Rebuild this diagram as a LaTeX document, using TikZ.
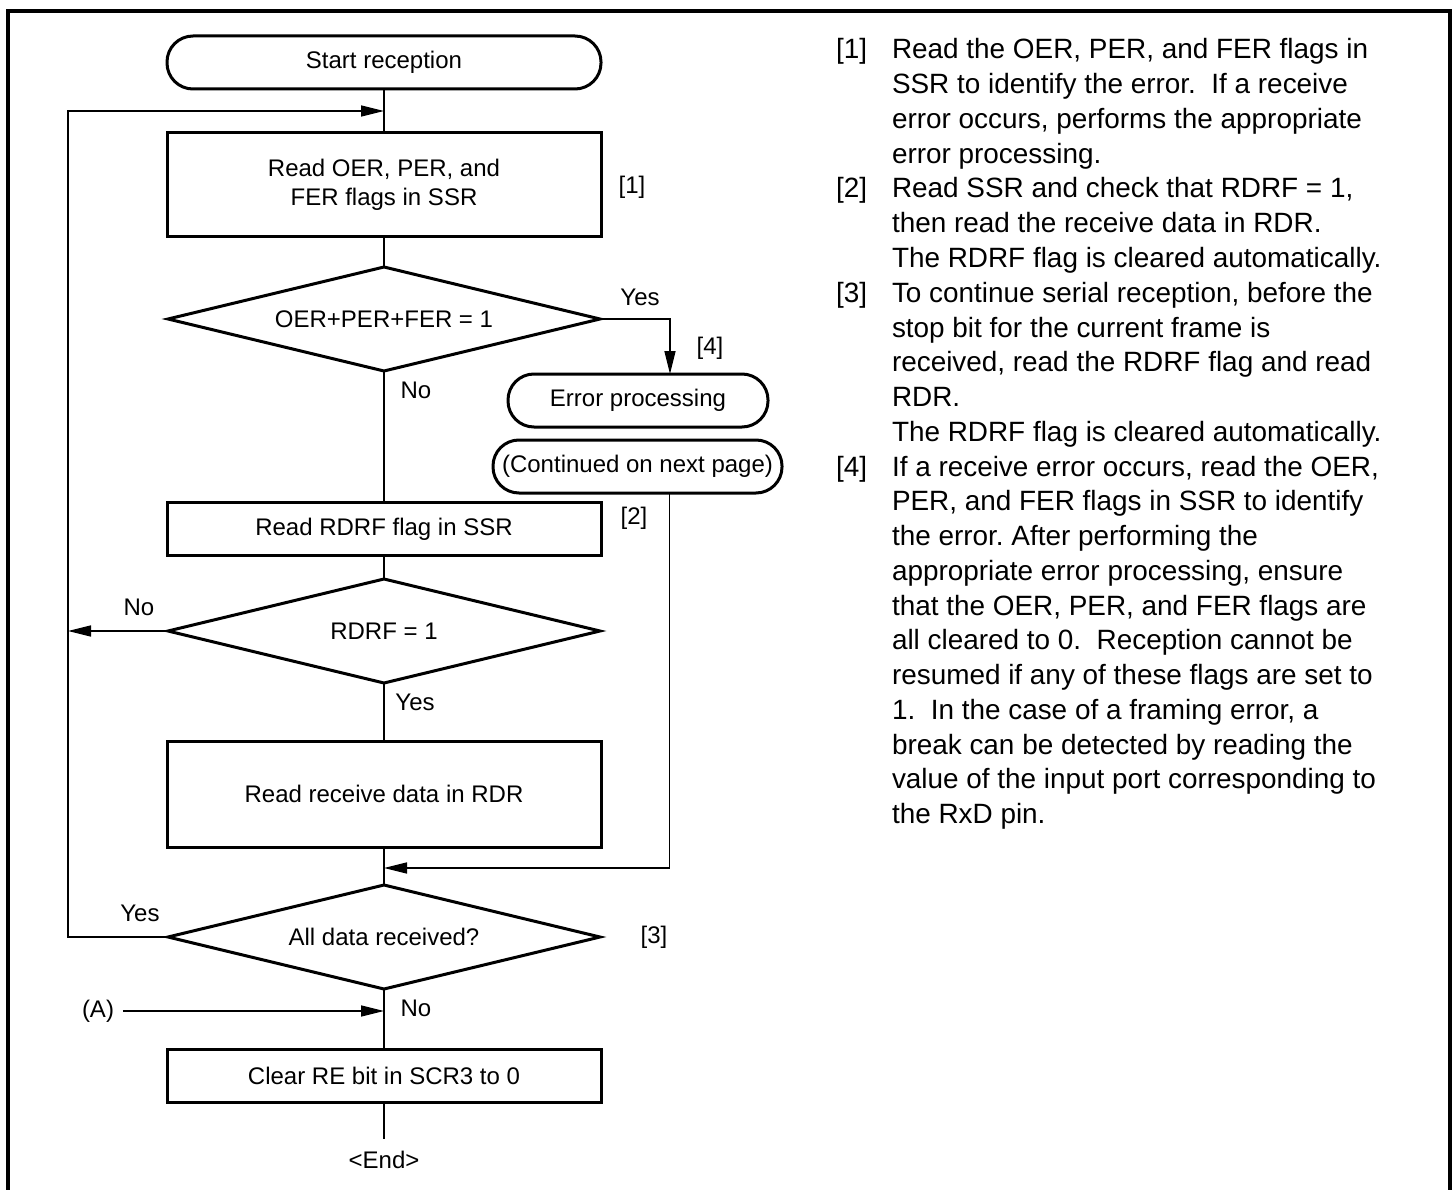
\documentclass[tikz,border=0pt]{standalone}
\usepackage{fontspec}
\setmainfont{Liberation Sans}
\usetikzlibrary{arrows.meta,shapes.geometric}
\begin{document}
\frenchspacing
\begin{tikzpicture}[x=1pt,y=-1pt,
  every node/.style={font=\fontsize{24}{29}\selectfont, inner sep=0pt, outer sep=0pt},
  proc/.style={draw, line width=3pt, minimum width=434pt, align=center},
  term/.style={draw, line width=3pt, rounded corners=26pt, minimum height=53pt},
  dec/.style={draw, diamond, line width=3pt, minimum width=432pt, minimum height=104pt, aspect=4.15},
  conn/.style={line width=1.4pt},
  arr/.style={conn, -{Triangle[length=23pt,width=11pt]}},
  rtxt/.style={anchor=west, font=\fontsize{27.9}{34.75}\selectfont, text height=20pt, text depth=0pt},
]
\useasboundingbox (0,0) rectangle (1455,1190);
\draw[line width=3.3pt] (8,1190) -- (8,11) -- (1450,11) -- (1450,1190);

% flowchart nodes
\node[term, minimum width=434pt] (start) at (384,62.5) {Start reception};
\node[proc, minimum height=104pt] (b1) at (384,185) {Read OER, PER, and\\FER flags in SSR};
\node[dec] (d1) at (384,319) {OER+PER+FER = 1};
\node[term, minimum width=260pt] (err) at (638,400.5) {Error processing};
\node[term, minimum width=289pt] (cont) at (637.5,466.5) {(Continued on next page)};
\node[proc, minimum height=53pt] (b2) at (384,529) {Read RDRF flag in SSR};
\node[dec] (d2) at (384,631) {RDRF = 1};
\node[proc, minimum height=106pt] (b3) at (384,794) {Read receive data in RDR};
\node[dec] (d3) at (384,937) {All data received?};
\node[proc, minimum height=53pt] (b4) at (384,1076) {Clear RE bit in SCR3 to 0};
\node (end) at (384,1160) {<End>};
\node (A) at (98,1011) {(A)};

% coordinates
\coordinate (loopin) at (384,111);
\coordinate (loopx2) at (68,631);
\coordinate (joinpt) at (384,868);
\coordinate (endtop) at (384,1139);

% labels
\node (yes1) at (640,297) {Yes};
\node (lab4) at (710,348) {[4]};
\node (no1) at (416,390) {No};
\node (lab1) at (632,187) {[1]};
\node (lab2) at (634,518) {[2]};
\node (no2) at (139,607) {No};
\node (yes2) at (415,702) {Yes};
\node (yes3) at (140,913) {Yes};
\node (lab3) at (654,937) {[3]};
\node (no3) at (416,1008) {No};

% connectors
\draw[conn] (start.south) -- (b1.north);
\draw[conn] (b1.south) -- (d1.north);
\draw[conn] (d1.south) -- (b2.north);
\draw[conn] (b2.south) -- (d2.north);
\draw[conn] (d2.south) -- (b3.north);
\draw[conn] (b3.south) -- (d3.north);
\draw[conn] (d3.south) -- (b4.north);
\draw[conn] (b4.south) -- (endtop);
\draw[arr] (d3.west) -- ++(-100,0) |- (loopin);
\draw[arr] (d2.west) -- (loopx2);
\draw[arr] (d1.east) -| ([xshift=32pt]err.north);
\draw[arr] ([xshift=32pt]cont.south) |- (joinpt);
\draw[arr] ([xshift=9pt]A.east) -- (A.east -| b4.north);

% right-hand notes
\node[rtxt] (n1) at (836,49) {[1]};
\node[rtxt] (n2) at (836,188) {[2]};
\node[rtxt] (n3) at (836,292.25) {[3]};
\node[rtxt] (n4) at (836,466) {[4]};
\foreach \txt [count=\i] in {
  {Read the OER, PER, and FER flags in},
  {SSR to identify the error.\ \ If a receive},
  {error occurs, performs the appropriate},
  {error processing.},
  {Read SSR and check that RDRF = 1,},
  {then read the receive data in RDR.},
  {The RDRF flag is cleared automatically.},
  {To continue serial reception, before the},
  {stop bit for the current frame is},
  {received, read the RDRF flag and read},
  {RDR.},
  {The RDRF flag is cleared automatically.},
  {If a receive error occurs, read the OER,},
  {PER, and FER flags in SSR to identify},
  {the error. After performing the},
  {appropriate error processing, ensure},
  {that the OER, PER, and FER flags are},
  {all cleared to 0.\ \ Reception cannot be},
  {resumed if any of these flags are set to},
  {1.\ \ In the case of a framing error, a},
  {break can be detected by reading the},
  {value of the input port corresponding to},
  {the RxD pin.}}
  \node[rtxt] (t\i) at (892,{49+(\i-1)*34.75}) {\txt};
\end{tikzpicture}
\end{document}
